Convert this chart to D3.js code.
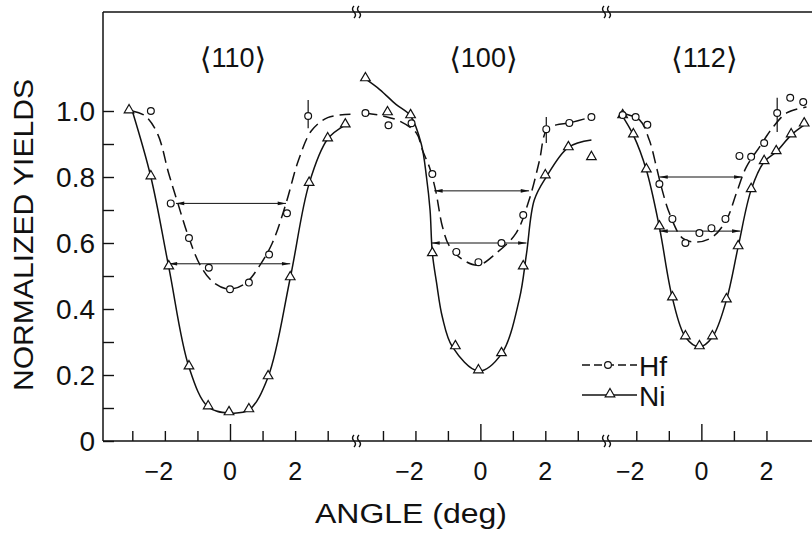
<!DOCTYPE html>
<html>
<head>
<meta charset="utf-8">
<script src="https://cdn.jsdelivr.net/npm/d3@7"></script>
<style>
  body { margin: 0; background: #fff; }
  text { font-family: "Liberation Sans", Arial, sans-serif; fill: #111; }
</style>
</head>
<body>
<div id="chart"></div>
<script>
// ---- data (angle in deg, normalized yield) ----
const yMajor = [0, 0.2, 0.4, 0.6, 0.8, 1.0];
const yMajorLabels = ["0", "0.2", "0.4", "0.6", "0.8", "1.0"];
const yMinor = [0.1, 0.3, 0.5, 0.7, 0.9];
const panelNames = ["110", "100", "112"];
const xTicks110 = [-3, -2, -1, 0, 1, 2, 3];
const xTicks100 = [-3, -2, -1, 0, 1, 2, 3];
const xTicks112 = [-2, -1, 0, 1, 2];
const xTickLabels = [-2, 0, 2];

// <110>
const hf110 = [[-2.43, 1.0], [-1.82, 0.72], [-1.26, 0.615], [-0.65, 0.525], [0, 0.46], [0.58, 0.48], [1.2, 0.565], [1.75, 0.69], [2.4, 0.985]];
const ni110 = [[-3.1, 1.0], [-2.43, 0.8], [-1.88, 0.527], [-1.26, 0.224], [-0.67, 0.103], [-0.03, 0.085], [0.58, 0.094], [1.17, 0.194], [1.85, 0.494], [2.43, 0.78], [3.0, 0.915], [3.54, 0.957]];
const hf110Fit = [[-3.0, 1.0], [-2.6, 0.985], [-2.22, 0.93], [-1.88, 0.81], [-1.6, 0.72], [-1.26, 0.615], [-0.9, 0.53], [-0.5, 0.48], [0, 0.46], [0.5, 0.48], [0.9, 0.53], [1.3, 0.6], [1.72, 0.72], [2.1, 0.85], [2.5, 0.94], [3.0, 0.98], [3.7, 0.99]];
const ni110Fit = [[-3.0, 1.0], [-2.43, 0.8], [-1.88, 0.527], [-1.26, 0.224], [-0.67, 0.103], [-0.03, 0.085], [0.58, 0.094], [1.17, 0.194], [1.85, 0.494], [2.43, 0.78], [3.0, 0.915], [3.54, 0.957]];

// <100>
const hf100 = [[-3.54, 0.994], [-2.83, 0.957], [-2.12, 0.963], [-1.48, 0.809], [-0.74, 0.573], [-0.06, 0.542], [0.65, 0.6], [1.32, 0.685], [2.03, 0.945], [2.74, 0.964], [3.42, 0.982]];
const ni100 = [[-3.54, 1.097], [-2.86, 0.994], [-2.15, 0.985], [-1.48, 0.567], [-0.77, 0.285], [-0.06, 0.212], [0.65, 0.264], [1.32, 0.527], [2.0, 0.803], [2.71, 0.888], [3.42, 0.858]];
const hf100Fit = [[-3.54, 0.994], [-3.0, 0.985], [-2.5, 0.97], [-1.97, 0.933], [-1.78, 0.88], [-1.57, 0.83], [-1.38, 0.76], [-1.17, 0.65], [-0.95, 0.59], [-0.55, 0.55], [-0.06, 0.533], [0.5, 0.57], [1.1, 0.63], [1.5, 0.73], [1.82, 0.85], [2.03, 0.94], [2.34, 0.958], [2.74, 0.964], [3.42, 0.982]];
const ni100Fit = [[-3.54, 1.097], [-3.1, 1.065], [-2.6, 1.02], [-2.15, 0.985], [-1.82, 0.9], [-1.66, 0.8], [-1.55, 0.7], [-1.48, 0.57], [-1.35, 0.48], [-1.17, 0.375], [-0.86, 0.285], [-0.06, 0.212], [0.65, 0.264], [1.2, 0.43], [1.42, 0.567], [1.66, 0.73], [2.03, 0.8], [2.71, 0.89], [3.42, 0.912]];

// <112>
const hf112 = [[-2.42, 0.988], [-2.02, 0.982], [-1.66, 0.958], [-1.29, 0.779], [-0.89, 0.673], [-0.49, 0.6], [-0.06, 0.63], [0.31, 0.645], [0.74, 0.673], [1.17, 0.864], [1.53, 0.861], [1.93, 0.903], [2.33, 0.994], [2.73, 1.04], [3.13, 1.027]];
const ni112 = [[-2.42, 0.985], [-2.09, 0.927], [-1.69, 0.821], [-1.29, 0.648], [-0.89, 0.433], [-0.49, 0.315], [-0.06, 0.285], [0.34, 0.315], [0.77, 0.427], [1.13, 0.588], [1.53, 0.761], [1.93, 0.846], [2.3, 0.876], [2.76, 0.927], [3.16, 0.96]];
const hf112Fit = [[-2.46, 0.994], [-1.9, 0.973], [-1.6, 0.912], [-1.38, 0.83], [-1.23, 0.77], [-0.98, 0.69], [-0.58, 0.615], [-0.15, 0.603], [0.34, 0.618], [0.77, 0.67], [1.08, 0.752], [1.38, 0.83], [1.78, 0.89], [2.18, 0.948], [2.62, 0.994], [3.23, 1.012]];
const ni112Fit = [[-2.46, 0.99], [-2.09, 0.927], [-1.69, 0.821], [-1.29, 0.648], [-0.89, 0.433], [-0.49, 0.315], [-0.06, 0.285], [0.34, 0.315], [0.77, 0.427], [1.13, 0.588], [1.53, 0.761], [1.93, 0.846], [2.3, 0.876], [2.76, 0.927], [3.2, 0.96]];

// half widths: [y, from, to]
const hfWidth = [[0.72, -1.66, 1.72], [0.758, -1.42, 1.5], [0.8, -1.29, 1.26]];
const niWidth = [[0.537, -1.88, 1.85], [0.6, -1.51, 1.42], [0.636, -1.29, 1.2]];
// error bars: [angle, y low, y high]
const errBars = [[[2.4, 0.948, 1.033]], [[2.03, 0.903, 0.982]], [[2.33, 0.936, 1.04]]];

const w = 812, h = 533;
const frameTop = 12, axisY = 441, axisX = 103;

const svg = d3.select("#chart").append("svg").attr("width", w).attr("height", h);

svg.append("defs").append("marker")
    .attr("id", "arr")
    .attr("viewBox", "0 0 10 6")
    .attr("refX", 10).attr("refY", 3)
    .attr("markerWidth", 10).attr("markerHeight", 5)
    .attr("markerUnits", "userSpaceOnUse")
    .attr("orient", "auto-start-reverse")
    .append("path").attr("d", "M0,0.8 L10,3 L0,5.2 Z").attr("fill", "#111");

const y = d3.scaleLinear().domain([0, 1.3]).range([axisY, axisY - 1.3 * 330]);

// panel x scales (broken axis)
const panels = [
    { name: panelNames[0], dom: [-3.9, 3.9], rng: [axisX, 357], ticks: xTicks110, hf: hf110, ni: ni110, hfFit: hf110Fit, niFit: ni110Fit },
    { name: panelNames[1], dom: [-3.8, 3.9], rng: [357, 607], ticks: xTicks100, hf: hf100, ni: ni100, hfFit: hf100Fit, niFit: ni100Fit },
    { name: panelNames[2], dom: [-2.9, 3.4], rng: [607, 812], ticks: xTicks112, hf: hf112, ni: ni112, hfFit: hf112Fit, niFit: ni112Fit }
];
panels.forEach(p => p.x = d3.scaleLinear().domain(p.dom).range(p.rng));

// frame lines
svg.append("line").attr("x1", axisX).attr("x2", w).attr("y1", frameTop).attr("y2", frameTop)
    .attr("stroke", "#111").attr("stroke-width", 1.5);
svg.append("line").attr("x1", axisX).attr("x2", w).attr("y1", axisY).attr("y2", axisY)
    .attr("stroke", "#111").attr("stroke-width", 1.5);
svg.append("line").attr("x1", axisX).attr("x2", axisX).attr("y1", frameTop).attr("y2", axisY)
    .attr("stroke", "#111").attr("stroke-width", 1.5);

// y ticks (inward)
const yAxis = d3.axisRight(y).tickValues(yMajor.concat(yMinor)).tickSize(11).tickFormat("");
const gy = svg.append("g").attr("transform", "translate(" + axisX + ",0)").call(yAxis);
gy.select(".domain").remove();
gy.selectAll(".tick line").attr("stroke", "#111").attr("stroke-width", 1.4);

svg.selectAll(".ylab").data(yMajor).enter().append("text")
    .attr("x", 95).attr("y", d => y(d) + 10)
    .attr("text-anchor", "end").style("font-size", "28px")
    .text((d, i) => yMajorLabels[i]);

svg.append("text").attr("transform", "translate(33,235) rotate(-90)")
    .attr("text-anchor", "middle").style("font-size", "27px")
    .attr("textLength", 312).attr("lengthAdjust", "spacingAndGlyphs")
    .text("NORMALIZED YIELDS");

svg.append("text").attr("x", 411).attr("y", 523).attr("text-anchor", "middle")
    .style("font-size", "27px")
    .attr("textLength", 192).attr("lengthAdjust", "spacingAndGlyphs")
    .text("ANGLE (deg)");

panels.forEach((p, pi) => {
    const x = p.x;
    // x ticks upward, 0 taller
    const xAxis = d3.axisTop(x).tickValues(p.ticks).tickSize(0).tickFormat("");
    const gx = svg.append("g").attr("transform", "translate(0," + axisY + ")").call(xAxis);
    gx.select(".domain").remove();
    gx.selectAll(".tick line").attr("y2", d => d === 0 ? -17 : -10)
        .attr("stroke", "#111").attr("stroke-width", 1.4);

    svg.selectAll(".xlab" + pi).data(xTickLabels).enter().append("text")
        .attr("x", d => x(d) + (d < 0 ? -6 : 0)).attr("y", 480)
        .attr("text-anchor", "middle").style("font-size", "25px")
        .text(d => d < 0 ? "\u2212" + Math.abs(d) : d);

    // panel title: ⟨hkl⟩
    const t = svg.append("text").attr("x", x(0) + 3).attr("y", 67).attr("text-anchor", "middle")
        .style("font-size", "27px");
    t.append("tspan").style("font-family", "'DejaVu Sans', sans-serif").style("font-size", "30px")
        .attr("dy", 2).text("\u27E8");
    t.append("tspan").attr("dy", -2).text(p.name);
    t.append("tspan").style("font-family", "'DejaVu Sans', sans-serif").style("font-size", "30px")
        .attr("dy", 2).text("\u27E9");

    const line = d3.line().x(d => x(d[0])).y(d => y(d[1])).curve(d3.curveCatmullRom.alpha(0.5));
    svg.append("path").attr("d", line(p.hfFit)).attr("fill", "none")
        .attr("stroke", "#111").attr("stroke-width", 1.5).attr("stroke-dasharray", "12,6");
    svg.append("path").attr("d", line(p.niFit)).attr("fill", "none")
        .attr("stroke", "#111").attr("stroke-width", 1.5);

    // half width arrows
    [hfWidth[pi], niWidth[pi]].forEach(a => {
        svg.append("line").attr("x1", x(a[1])).attr("x2", x(a[2]))
            .attr("y1", y(a[0])).attr("y2", y(a[0]))
            .attr("stroke", "#111").attr("stroke-width", 1)
            .attr("marker-start", "url(#arr)").attr("marker-end", "url(#arr)");
    });

    errBars[pi].forEach(e => {
        svg.append("line").attr("x1", x(e[0])).attr("x2", x(e[0]))
            .attr("y1", y(e[1])).attr("y2", y(e[2]))
            .attr("stroke", "#111").attr("stroke-width", 1.2);
    });

    svg.selectAll(".ni" + pi).data(p.ni).enter().append("path")
        .attr("d", d3.symbol(d3.symbolTriangle, 40))
        .attr("transform", d => "translate(" + x(d[0]) + "," + (y(d[1]) - 1) + ")")
        .attr("fill", "#fff").attr("stroke", "#111").attr("stroke-width", 1.2);

    svg.selectAll(".hf" + pi).data(p.hf).enter().append("circle")
        .attr("cx", d => x(d[0])).attr("cy", d => y(d[1])).attr("r", 3.4)
        .attr("fill", "#fff").attr("stroke", "#111").attr("stroke-width", 1.2);
});

// axis break marks
[357, 607].forEach(bx => {
    [frameTop, axisY].forEach(by => {
        [-3, 2].forEach(off => {
            svg.append("path")
                .attr("d", "M" + (bx + off) + "," + (by - 6) + " q-3,3 0,6 q3,3 0,6")
                .attr("fill", "none").attr("stroke", "#111").attr("stroke-width", 1.4);
        });
    });
});

// legend
const legend = svg.append("g");
legend.append("line").attr("x1", 582).attr("x2", 637).attr("y1", 365).attr("y2", 365)
    .attr("stroke", "#111").attr("stroke-width", 1.5).attr("stroke-dasharray", "8,4");
legend.append("circle").attr("cx", 608).attr("cy", 365).attr("r", 3.4)
    .attr("fill", "#fff").attr("stroke", "#111").attr("stroke-width", 1.2);
legend.append("text").attr("x", 639).attr("y", 376).style("font-size", "28px").text("Hf");
legend.append("line").attr("x1", 582).attr("x2", 637).attr("y1", 395).attr("y2", 395)
    .attr("stroke", "#111").attr("stroke-width", 1.5);
legend.append("path").attr("d", d3.symbol(d3.symbolTriangle, 40))
    .attr("transform", "translate(610,394)")
    .attr("fill", "#fff").attr("stroke", "#111").attr("stroke-width", 1.2);
legend.append("text").attr("x", 639).attr("y", 406).style("font-size", "28px").text("Ni");
</script>
</body>
</html>
